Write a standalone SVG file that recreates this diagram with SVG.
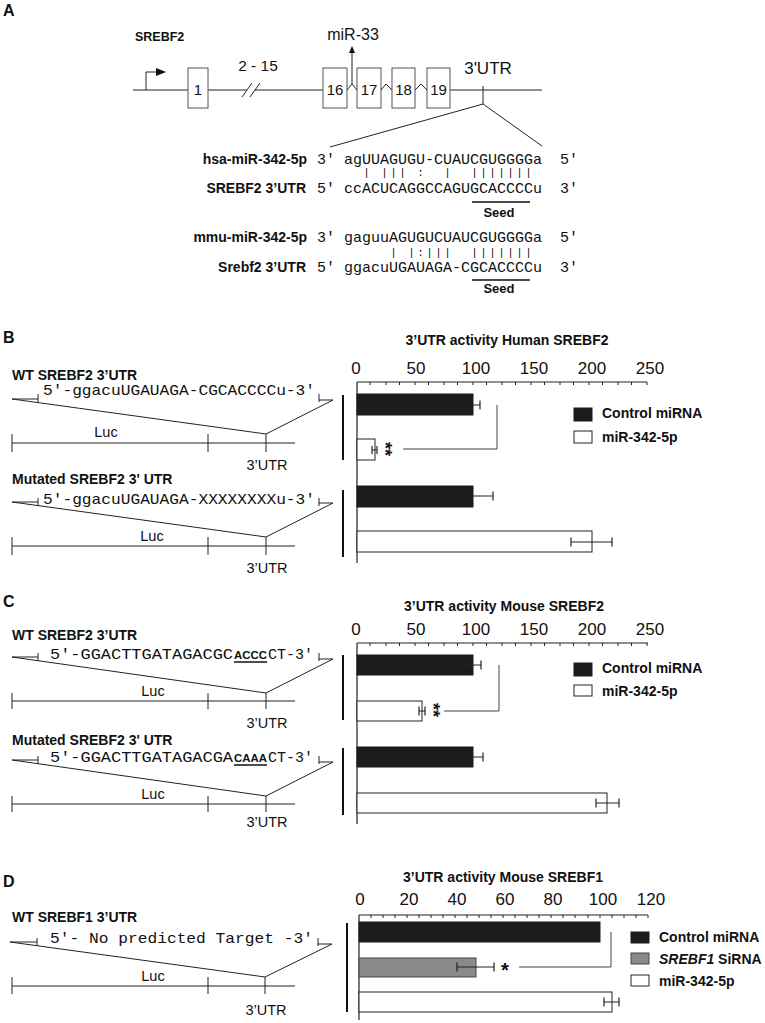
<svg xmlns="http://www.w3.org/2000/svg" width="765" height="1023" viewBox="0 0 765 1023">
<style>
text{font-family:"Liberation Sans",Arial,sans-serif;fill:#111}
.b{font-weight:bold}
.m{font-family:"Liberation Mono","Courier New",monospace}
.sq{font-family:"Liberation Mono","Courier New",monospace;font-size:15px}
.ln{stroke:#222;stroke-width:1;fill:none}
.ax{stroke:#222;stroke-width:1.2;fill:none}
.vb{stroke:#111;stroke-width:2}
.blk{fill:#1c1c1c;stroke:#1c1c1c}
.wht{fill:#fff;stroke:#222;stroke-width:1}
.gry{fill:#8a8a8a;stroke:#444;stroke-width:1}
.eb{stroke:#222;stroke-width:1.2;fill:none}
.br{stroke:#444;stroke-width:1;fill:none}
.lbl{font-size:14px;font-weight:bold}
.ttl{font-size:14px;font-weight:bold}
.num{font-size:17px}
.leg{font-size:14px;font-weight:bold}
.let{font-size:16px;font-weight:bold}
.sm{font-size:14.5px}
.bu{font-size:11.4px;font-weight:bold}
</style>

<!-- Panel letters -->
<text class="let" x="3" y="16">A</text>
<text class="let" x="3" y="343">B</text>
<text class="let" x="3" y="607">C</text>
<text class="let" x="3" y="887">D</text>

<!-- Panel A gene diagram -->
<g id="geneA">
<text class="b" x="135" y="41" style="font-size:12.5px">SREBF2</text>
<path class="ln" d="M133,90 H188 M208,90 H247 M255,90 H323 M450,90 H542"/>
<path class="ln" d="M242,97 L252,83 M250,97 L260,83"/>
<path class="ln" d="M146,90 V72 H157"/>
<polygon points="156,68 166,72 156,76" fill="#111"/>
<text x="258" y="71" text-anchor="middle" style="font-size:15.5px">2 - 15</text>
<rect x="188" y="68" width="20" height="40" fill="#fff" stroke="#555"/>
<text x="198" y="95" text-anchor="middle" style="font-size:15px">1</text>
<rect x="323" y="68" width="24" height="40" fill="#fff" stroke="#555"/>
<text x="335" y="95" text-anchor="middle" style="font-size:15px">16</text>
<rect x="357" y="68" width="24" height="40" fill="#fff" stroke="#555"/>
<text x="369" y="95" text-anchor="middle" style="font-size:15px">17</text>
<rect x="392" y="68" width="23" height="40" fill="#fff" stroke="#555"/>
<text x="403.5" y="95" text-anchor="middle" style="font-size:15px">18</text>
<rect x="427" y="68" width="23" height="40" fill="#fff" stroke="#555"/>
<text x="438.5" y="95" text-anchor="middle" style="font-size:15px">19</text>
<path class="ln" d="M347,90 L352,84 L357,90 M381,90 L386,84 L392,90 M415,90 L421,84 L427,90"/>
<path class="ln" d="M352,84 V52"/>
<polygon points="349,53 352,46 355,53" fill="#111"/>
<text x="353" y="40" text-anchor="middle" style="font-size:16px">miR-33</text>
<text x="488" y="74" text-anchor="middle" style="font-size:17px">3'UTR</text>
<path class="ln" d="M483,86 V104 M330,147 L483,104 L542,146"/>
</g>

<!-- Panel A alignments -->
<g id="alignHuman">
<text class="lbl" x="307" y="164" text-anchor="end">hsa-miR-342-5p</text>
<text class="m" x="317" y="164" style="font-size:15px">3'</text>
<text class="m" x="344" y="164" style="font-size:15px" textLength="198" lengthAdjust="spacingAndGlyphs">agUUAGUGU-CUAUCGUGGGGa</text>
<text class="m" x="560" y="164" style="font-size:15px">5'</text>
<text class="m" y="176" text-anchor="middle" style="font-size:11px" x="366.5 384.5 393.5 402.5 420.5 447.5 474.5 483.5 492.5 501.5 510.5 519.5 528.5">||||:||||||||</text>
<text class="lbl" x="306" y="193" text-anchor="end">SREBF2 3’UTR</text>
<text class="m" x="317" y="193" style="font-size:15px">5'</text>
<text class="m" x="344" y="193" style="font-size:15px" textLength="198" lengthAdjust="spacingAndGlyphs">ccACUCAGGCCAGUGCACCCCu</text>
<text class="m" x="560" y="193" style="font-size:15px">3'</text>
<path d="M472,202 H530" stroke="#111" stroke-width="1.5"/>
<text class="b" x="499" y="217" text-anchor="middle" style="font-size:13px">Seed</text>
</g>
<g id="alignMouse">
<text class="lbl" x="307" y="242" text-anchor="end">mmu-miR-342-5p</text>
<text class="m" x="317" y="242" style="font-size:15px">3'</text>
<text class="m" x="344" y="242" style="font-size:15px" textLength="198" lengthAdjust="spacingAndGlyphs">gaguuAGUGUCUAUCGUGGGGa</text>
<text class="m" x="560" y="242" style="font-size:15px">5'</text>
<text class="m" y="256" text-anchor="middle" style="font-size:11px" x="393.5 411.5 420.5 429.5 438.5 447.5 474.5 483.5 492.5 501.5 510.5 519.5 528.5">||:||||||||||</text>
<text class="lbl" x="306" y="272" text-anchor="end">Srebf2 3’UTR</text>
<text class="m" x="317" y="272" style="font-size:15px">5'</text>
<text class="m" x="344" y="272" style="font-size:15px" textLength="198" lengthAdjust="spacingAndGlyphs">ggacuUGAUAGA-CGCACCCCu</text>
<text class="m" x="560" y="272" style="font-size:15px">3'</text>
<path d="M472,280 H530" stroke="#111" stroke-width="1.5"/>
<text class="b" x="499" y="293" text-anchor="middle" style="font-size:13px">Seed</text>
</g>

<!-- Panel B constructs -->
<g id="constructB_WT">
<text class="lbl" x="12" y="380">WT SREBF2 3’UTR</text>
<text class="sq" x="43" y="395" textLength="272" lengthAdjust="spacingAndGlyphs">5'-ggacuUGAUAGA-CGCACCCCu-3'</text>
<path class="ln" d="M12,399 H38 M38,394 V402 M319,394 V402 M319,400 H333 L266,434 L12,399"/>
<path class="ln" d="M12,443 H295 M12,434 V452 M208,434 V452 M266,434 V452"/>
<text class="sm" x="106" y="437" text-anchor="middle">Luc</text>
<text class="sm" x="267" y="470" text-anchor="middle">3’UTR</text>
</g>
<g id="constructB_Mut">
<text class="lbl" x="12" y="484">Mutated SREBF2 3' UTR</text>
<text class="sq" x="43" y="504" textLength="272" lengthAdjust="spacingAndGlyphs">5'-ggacuUGAUAGA-XXXXXXXXu-3'</text>
<path class="ln" d="M12,502 H38 M38,498 V506 M319,498 V506 M319,503 H333 L266,537 L12,502"/>
<path class="ln" d="M12,546 H295 M12,537 V555 M208,537 V555 M266,537 V555"/>
<text class="sm" x="152" y="541" text-anchor="middle">Luc</text>
<text class="sm" x="267" y="573" text-anchor="middle">3’UTR</text>
</g>

<!-- Panel B chart -->
<g id="chartB">
<text class="ttl" x="507" y="345" text-anchor="middle">3’UTR activity Human SREBF2</text>
<g class="num" text-anchor="middle">
<text x="356" y="374">0</text><text x="416" y="374">50</text><text x="476" y="374">100</text><text x="534" y="374">150</text><text x="592" y="374">200</text><text x="650" y="374">250</text>
</g>
<path class="ax" d="M357,382 H647 M357,382 V563"/>
<path class="ln" d="M370,382 v3 M386,382 v3 M415,382 v3 M444,382 v3 M473,382 v3 M502,382 v3 M531,382 v3 M560,382 v3 M589,382 v3 M618,382 v3 M647,382 v3 M399.5,382 v3 M428.5,382 v3 M457.5,382 v3 M486.5,382 v3 M515.5,382 v3 M544.5,382 v3 M573.5,382 v3 M602.5,382 v3 M631.5,382 v3"/>
<rect class="blk" x="357" y="394" width="116" height="21"/>
<rect class="wht" x="357" y="439" width="18" height="21"/>
<rect class="blk" x="357" y="486" width="116" height="21"/>
<rect class="wht" x="357" y="531" width="235" height="21"/>
<path class="eb" d="M466,405 H480 M466,400.5 V409.5 M480,400.5 V409.5"/>
<path class="eb" d="M372,450 H377 M372,446 V454 M377,446 V454"/>
<path class="eb" d="M454,496 H493 M454,491.5 V500.5 M493,491.5 V500.5"/>
<path class="eb" d="M571,542 H612 M571,537.5 V546.5 M612,537.5 V546.5"/>
<text class="b" transform="translate(379,449) rotate(90)" text-anchor="middle" style="font-size:18px">**</text>
<path class="br" d="M403,449 H497 V405"/>
<rect class="blk" x="574" y="408" width="18" height="13"/>
<text class="leg" x="602" y="418">Control miRNA</text>
<rect class="wht" x="574" y="431" width="18" height="12"/>
<text class="leg" x="602" y="442">miR-342-5p</text>
</g>
<g id="bracketsB">
<path class="vb" d="M343,395 V460 M343,490 V557"/>
</g>

<!-- Panel C constructs -->
<g id="constructC_WT">
<text class="lbl" x="12" y="640">WT SREBF2 3’UTR</text>
<text class="sq" x="50" y="659" textLength="183" lengthAdjust="spacingAndGlyphs">5'-GGACTTGATAGACGC</text>
<text class="bu" x="234" y="659">ACCC</text>
<text class="sq" x="268" y="659" textLength="45" lengthAdjust="spacingAndGlyphs">CT-3'</text>
<path d="M234,662 H267" stroke="#111" stroke-width="1.5"/>
<path class="ln" d="M12,657 H38 M38,653 V661 M319,653 V661 M319,659 H333 L266,693 L12,657"/>
<path class="ln" d="M12,701 H295 M12,693 V709 M208,693 V709 M266,693 V709"/>
<text class="sm" x="153" y="696" text-anchor="middle">Luc</text>
<text class="sm" x="267" y="728" text-anchor="middle">3’UTR</text>
</g>
<g id="constructC_Mut">
<text class="lbl" x="12" y="745">Mutated SREBF2 3' UTR</text>
<text class="sq" x="50" y="762" textLength="183" lengthAdjust="spacingAndGlyphs">5'-GGACTTGATAGACGA</text>
<text class="bu" x="234" y="762">CAAA</text>
<text class="sq" x="268" y="762" textLength="45" lengthAdjust="spacingAndGlyphs">CT-3'</text>
<path d="M234,765 H267" stroke="#111" stroke-width="1.5"/>
<path class="ln" d="M12,760 H38 M38,756 V764 M319,756 V764 M319,762 H333 L266,796 L12,760"/>
<path class="ln" d="M12,804 H295 M12,796 V812 M208,796 V812 M266,796 V812"/>
<text class="sm" x="153" y="799" text-anchor="middle">Luc</text>
<text class="sm" x="267" y="827" text-anchor="middle">3’UTR</text>
</g>

<!-- Panel C chart -->
<g id="chartC">
<text class="ttl" x="504" y="611" text-anchor="middle">3’UTR activity Mouse SREBF2</text>
<g class="num" text-anchor="middle">
<text x="356" y="635">0</text><text x="416" y="635">50</text><text x="476" y="635">100</text><text x="534" y="635">150</text><text x="592" y="635">200</text><text x="650" y="635">250</text>
</g>
<path class="ax" d="M357,643 H648 M357,643 V824"/>
<path class="ln" d="M370,643 v3 M386,643 v3 M415,643 v3 M444,643 v3 M473,643 v3 M502,643 v3 M531,643 v3 M560,643 v3 M589,643 v3 M618,643 v3 M647,643 v3 M399.5,643 v3 M428.5,643 v3 M457.5,643 v3 M486.5,643 v3 M515.5,643 v3 M544.5,643 v3 M573.5,643 v3 M602.5,643 v3 M631.5,643 v3"/>
<rect class="blk" x="357" y="655" width="116" height="20"/>
<rect class="wht" x="357" y="701" width="65" height="20"/>
<rect class="blk" x="357" y="747" width="116" height="20"/>
<rect class="wht" x="357" y="793" width="250" height="20"/>
<path class="eb" d="M465,665 H481 M465,660.5 V669.5 M481,660.5 V669.5"/>
<path class="eb" d="M419,711 H425 M419,706.5 V715.5 M425,706.5 V715.5"/>
<path class="eb" d="M464,757 H483 M464,752.5 V761.5 M483,752.5 V761.5"/>
<path class="eb" d="M596,803 H619 M596,798.5 V807.5 M619,798.5 V807.5"/>
<text class="b" transform="translate(427,710) rotate(90)" text-anchor="middle" style="font-size:18px">**</text>
<path class="br" d="M444,711 H499 V665"/>
<rect class="blk" x="574" y="663" width="18" height="13"/>
<text class="leg" x="602" y="673">Control miRNA</text>
<rect class="wht" x="574" y="685" width="18" height="11"/>
<text class="leg" x="602" y="696">miR-342-5p</text>
</g>
<g id="bracketsC">
<path class="vb" d="M343,655 V720 M343,748 V815"/>
</g>

<!-- Panel D construct -->
<g id="constructD">
<text class="lbl" x="12" y="922">WT SREBF1 3’UTR</text>
<text class="sq" x="50" y="943" textLength="263" lengthAdjust="spacingAndGlyphs">5'- No predicted Target -3'</text>
<path class="ln" d="M10,942 H37 M37,938 V946 M318,938 V946 M318,944 H332 L265,977 L10,942"/>
<path class="ln" d="M12,986 H295 M12,977 V994 M208,977 V994 M265,977 V994"/>
<text class="sm" x="153" y="981" text-anchor="middle">Luc</text>
<text class="sm" x="266" y="1015" text-anchor="middle">3’UTR</text>
</g>

<!-- Panel D chart -->
<g id="chartD">
<text class="ttl" x="503" y="882" text-anchor="middle">3’UTR activity Mouse SREBF1</text>
<g class="num" text-anchor="middle">
<text x="360" y="905">0</text><text x="409" y="905">20</text><text x="457" y="905">40</text><text x="505" y="905">60</text><text x="553" y="905">80</text><text x="603" y="905">100</text><text x="651" y="905">120</text>
</g>
<path class="ax" d="M359,915 H648 M359,915 V1020"/>
<path class="ln" d="M371,915 v3 M383,915 v3 M395,915 v3 M407,915 v3 M419,915 v3 M431,915 v3 M443,915 v3 M455,915 v3 M467,915 v3 M479,915 v3 M491,915 v3 M503,915 v3 M515,915 v3 M527,915 v3 M539,915 v3 M551,915 v3 M563,915 v3 M575,915 v3 M588,915 v3 M600,915 v3 M612,915 v3 M624,915 v3 M636,915 v3 M648,915 v3"/>
<rect class="blk" x="359" y="922" width="241" height="20"/>
<rect class="gry" x="359" y="958" width="117" height="19"/>
<rect class="wht" x="359" y="992" width="253" height="20"/>
<path class="eb" d="M457,967 H494 M457,962.5 V971.5 M494,962.5 V971.5"/>
<path class="eb" d="M604,1002 H619 M604,997.5 V1006.5 M619,997.5 V1006.5"/>
<text class="b" x="505" y="977" text-anchor="middle" style="font-size:20px">*</text>
<path class="br" d="M519,967 H611 V932"/>
<rect class="blk" x="631" y="932" width="18" height="11"/>
<text class="leg" x="659" y="942">Control miRNA</text>
<rect class="gry" x="631" y="953" width="18" height="11"/>
<text class="leg" x="659" y="964"><tspan font-style="italic">SREBF1</tspan> SiRNA</text>
<rect class="wht" x="631" y="975" width="18" height="11"/>
<text class="leg" x="659" y="986">miR-342-5p</text>
</g>
<g id="bracketsD">
<path class="vb" d="M347,923 V1012"/>
</g>
</svg>
